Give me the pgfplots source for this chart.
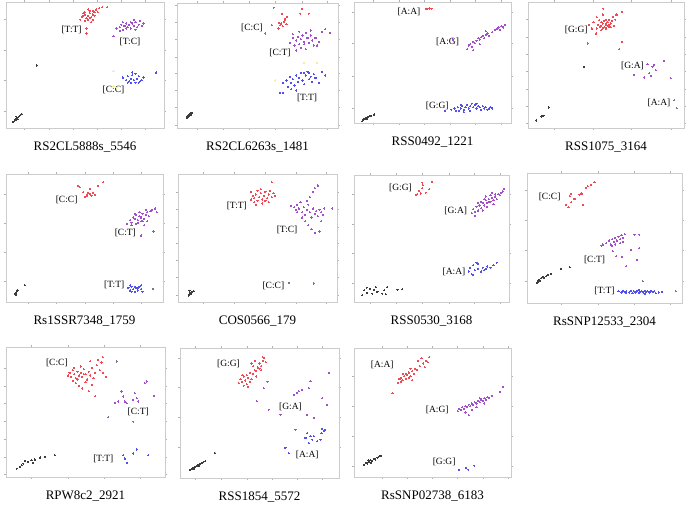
\documentclass[border=0pt]{standalone}
\usepackage{pgfplots}
\pgfplotsset{compat=1.18}
\usepackage{fontspec}
\setmainfont{Liberation Serif}
\definecolor{cR}{RGB}{240,75,85}
\definecolor{cP}{RGB}{160,80,200}
\definecolor{cB}{RGB}{80,80,238}
\definecolor{cK}{RGB}{60,60,60}
\definecolor{cG}{RGB}{130,110,150}
\definecolor{cY}{RGB}{245,238,160}
\newcommand\pts[2]{\addplot[only marks, mark=*, mark size=0.6pt, color=#1, mark options={line width=0pt}] coordinates {#2};}
\newcommand\lab[3]{\node[font=\fontsize{9.5}{10}\selectfont, inner sep=0pt] at (axis cs:#1,#2) {#3};}
\pgfplotsset{panel/.style={scale only axis, xmin=0, xmax=100, ymin=0, ymax=100,
  axis line style={gray!40}, tick align=outside, major tick length=2pt,
  tick style={gray!60, thin}, xticklabels={}, yticklabels={},
  anchor=north west, clip=false,
  xlabel style={at={(axis description cs:0.5,0)}, anchor=center, yshift=-19pt, font=\fontsize{13}{15}\selectfont}}}
\begin{document}
\begin{tikzpicture}[x=1pt,y=1pt]
\useasboundingbox (0,0) rectangle (686,512);
% ---------- Panel 1
\begin{axis}[panel, at={(6pt,510pt)}, width=158pt, height=126pt,
  xtick={11.4,27.2,42.6,58,73.2,88.4}, ytick={13.5,37.9,62,86}, xlabel={RS2CL5888s\_5546}]
\pts{cY}{(68,45) (68,33) (70,32)}
\pts{cR}{(48,88) (50,90) (51,87) (52,89) (53,91) (54,88) (55,90) (52,86) (50,85) (49,91) (53,93) (56,92) (57,94) (59,95) (61,96) (64,96) (55,86) (47,86) (51,79) (51,75) (54,84) (56,89) (58,92) (50,92) (52,94) (49,89) (53,87) (55,93)}
\pts{cP}{(70,79) (72,80) (73,82) (74,78) (75,81) (76,83) (77,80) (78,82) (79,79) (80,83) (81,81) (82,84) (83,80) (84,82) (85,85) (86,81) (87,83) (76,79) (79,84) (72,77) (68,73) (82,78) (74,84) (81,86)}
\pts{cB}{(74,40) (76,38) (77,41) (78,37) (79,39) (80,42) (81,38) (82,36) (83,39) (84,41) (85,37) (86,38) (87,40) (79,36) (82,43) (84,36) (95,44) (77,36) (80,44)}
\pts{cK}{(4.6,5) (5.5,6) (6,7) (6.5,6.5) (7,8) (7.5,7) (8,9) (9,10) (10,11) (6.5,9) (19.4,49.6)}
\lab{41.5}{78}{[T:T]}\lab{78.5}{68}{[T:C]}\lab{68}{30}{[C:C]}
\end{axis}
% ---------- Panel 2
\begin{axis}[panel, at={(177pt,509pt)}, width=161pt, height=125pt,
  xtick={12.8,28.6,44.9,61,77.6,93.6}, ytick={2.6,16.7,30.5,43.8,57,70.8,84.4,98}, xlabel={RS2CL6263s\_1481}]
\pts{cY}{(79,52) (87,52) (61,38)}
\pts{cR}{(60,96.3) (65.2,91.5) (68.3,88.9) (66.3,84.9) (64.2,82.2) (63.1,79.6) (67.3,86.2) (76.6,91.5) (77.6,95.5) (81.8,91.5) (54.9,75.6) (59,82.2) (64.8,83.6) (65.6,81.4) (66.9,87.5) (63.6,84) (68,83)}
\pts{cP}{(70,68) (72,72) (73,66) (74,70) (75,73) (76,67) (77,71) (78,74) (79,69) (80,76) (81,72) (82,68) (83,74) (84,70) (85,66) (86,72) (88,69) (90,77) (92,79) (95,76) (74,62) (77,64) (80,63) (72,75) (83,78) (87,66) (79,67) (76,77)}
\pts{cB}{(66,36) (68,38) (69,33) (70,41) (71,36) (72,39) (73,34) (74,42) (75,37) (76,40) (77,44) (78,38) (79,35) (80,42) (81,45) (82,39) (83,41) (84,37) (85,43) (86,40) (88,36) (90,45) (92,42) (64,28) (66,28) (71,31) (74,30) (79,44) (82,44)}
\pts{cK}{(6,8) (6.5,9) (7,10) (7.5,9.5) (8,11) (8.5,10.5) (9,12) (7,8.5)}
\lab{46.6}{80.4}{[C:C]}\lab{64}{60}{[C:T]}\lab{80.8}{24.4}{[T:T]}
\end{axis}
% ---------- Panel 3
\begin{axis}[panel, at={(354pt,510pt)}, width=157pt, height=121pt,
  xtick={12.3,28.7,44.7,61,77,93.6}, ytick={12.5,38.9,65.8,91.7}, xlabel={RSS0492\_1221}]
\pts{cR}{(45.7,94.4) (46.8,94.4) (48.2,94.6) (49.4,94.4)}
\pts{cP}{(72,61) (73,64) (74,65) (75,63) (76,67) (77,66) (78,68) (79,70) (80,69) (81,71) (82,72) (83,70) (84,73) (85,74) (86,72) (88,75) (90,77) (91,78) (92,79) (93,77) (94,80) (95,79) (96,81) (76,60) (80,65) (84,76) (63,69)}
\pts{cB}{(58,10) (62,11) (64,12) (66,13) (67,10) (68,12) (69,14) (70,11) (71,13) (72,15) (73,12) (74,14) (75,16) (76,13) (77,15) (78,12) (79,14) (80,13) (81,11) (82,14) (83,12) (84,13) (85,11) (86,12) (87,13) (88,12) (70,9) (74,10) (78,16) (68,15) (65,10)}
\pts{cK}{(5.3,1.5) (6,2.5) (7,3) (7.5,4) (8.5,4.5) (9,5) (10,5.5) (11,6) (12.8,7) (6.5,3.5) (8,3.2)}
\lab{35}{92}{[A:A]}\lab{59.6}{66.7}{[A:G]}\lab{53}{14.4}{[G:G]}
\end{axis}
% ---------- Panel 4
\begin{axis}[panel, at={(528pt,510pt)}, width=156pt, height=126pt,
  xtick={17,41.5,66,91.5}, ytick={3.9,17.1,30.8,44.7,58.4,71.8,86.3}, xlabel={RSS1075\_3164}]
\pts{cR}{(48.3,94.7) (60.2,92.1) (56.4,89.5) (45.7,85.5) (50,82.9) (52.1,80.3) (46.8,77.6) (43.6,75) (38.3,67.1) (60.2,68.4) (58.5,62.4) (54.3,88.2) (47,81) (48,83) (49,80) (50,82) (51,84) (52,82) (48,79) (50,79) (53,83) (46,80) (49,85) (51,81) (47,84) (54,85) (45,82) (52,86) (44,79) (55,81) (50,86) (53,80) (42,84) (56,86) (57,90) (44,88) (48,90) (41,79) (39,82)}
\pts{cP}{(76.6,50.5) (79.8,48.7) (81.9,46) (77.7,43.4) (74.5,40) (78.7,41.3) (68.1,42.1) (87.2,53.2) (91.5,39.5) (80.9,50)}
\pts{cG}{(93.6,22) (95.3,15.8)}
\pts{cK}{(5.3,6) (8.5,9.2) (9.2,9.5) (10,9.7) (13.4,16.3) (36,48.7)}
\lab{30.9}{78}{[G:G]}\lab{67}{49}{[G:A]}\lab{84}{20.3}{[A:A]}
\end{axis}
% ---------- Panel 5
\begin{axis}[panel, at={(6pt,338pt)}, width=157pt, height=128pt,
  xtick={14.2,32.2,50.2,68.2,86.2}, ytick={16,39,61.8,84.4}, xlabel={Rs1SSR7348\_1759}]
\pts{cR}{(61.9,93.5) (58.7,90.9) (53.4,88.3) (52.3,85.2) (54.4,83.1) (51.3,82.6) (56.6,83.6) (47,89.6) (49.2,85.7) (50.2,81.8) (51.7,83.6) (53.4,84.4) (55.5,85.2) (46,90.9)}
\pts{cP}{(77,61) (79,64) (80,62) (81,66) (82,65) (83,68) (84,64) (85,67) (86,66) (87,69) (88,65) (89,68) (90,70) (91,67) (92,71) (93,72) (95,73) (84,62) (86,63) (88,60) (90,63) (82,69) (85,70) (87,63) (83,61) (89,72) (80,60) (86,52) (94,55) (96,70)}
\pts{cB}{(78,11) (79,9) (80,12) (81,10) (82,8) (83,11) (84,9) (85,12) (86,10) (87,8) (80,8) (82,12) (84,11) (86,13) (79,13)}
\pts{cG}{(93.6,10.4)}
\pts{cK}{(5.7,6) (6,7) (6.5,7.5) (7,8.5) (7.5,9) (6.2,5.7) (12,13)}
\lab{38.6}{79.7}{[C:C]}\lab{76}{53.8}{[C:T]}\lab{68.9}{13.5}{[T:T]}
\end{axis}
% ---------- Panel 6
\begin{axis}[panel, at={(178pt,338pt)}, width=159pt, height=128pt,
  xtick={16,35.4,55,74.2,93}, ytick={5.2,19,32.6,45.7,58.7,72.3,85.6}, xlabel={COS0566\_179}]
\pts{cR}{(46,80) (47,83) (48,81) (49,84) (50,79) (51,82) (52,85) (53,80) (54,83) (55,86) (56,81) (57,84) (58,87) (59,82) (60,85) (48,78) (50,87) (53,77) (55,79) (57,78) (52,88) (49,76) (61,83) (59,93.5) (46,86)}
\pts{cP}{(71,75) (73,74) (74,72) (75,76) (76,73) (77,78) (78,70) (79,74) (80,68) (81,72) (82,76) (83,70) (84,66) (85,73) (86,69) (87,71) (88,67) (89,72) (90,70) (91,68) (92,73) (80,63) (82,60) (84,57) (86,54) (89,55) (83,82) (85,86) (86,89) (88,91) (97,73) (78,66) (81,79) (75,70) (90,63)}
\pts{cG}{(69.6,14.9) (85.3,14.4)}
\pts{cK}{(6.7,5) (7,6) (7.5,7) (8,6.5) (8.5,7.5) (9,8) (10,8.5) (7.2,8.8)}
\lab{37}{75}{[T:T]}\lab{68.6}{56}{[T:C]}\lab{60}{13}{[C:C]}
\end{axis}
% ---------- Panel 7
\begin{axis}[panel, at={(354pt,337pt)}, width=155pt, height=127pt,
  xtick={10.3,27.3,44,61.3,77.8,94.6}, ytick={14.5,38.2,61.3,85}, xlabel={RSS0530\_3168}]
\pts{cR}{(44.1,94) (44.5,92.1) (44.1,89.5) (41.9,87.6) (39.8,84.2) (46.2,86) (48.4,88.7) (50.5,94.7) (43,85.5) (40.9,85)}
\pts{cP}{(76,70) (77,73) (78,71) (79,75) (80,72) (81,76) (82,74) (83,78) (84,76) (85,80) (86,78) (87,81) (88,79) (89,82) (90,80) (91,83) (92,81) (93,85) (94,84) (95,86) (96,87) (97,89) (84,81) (86,75) (88,84) (90,77) (82,79) (80,78) (78,68) (87,79) (89,86) (85,83) (91,85) (83,72)}
\pts{cB}{(74,24) (75,27) (76,22) (77,29) (78,25) (79,31) (80,26) (82,24) (83,27) (85,26) (86,28) (88,27) (90,29) (92,31) (77,21) (80,30) (84,25)}
\pts{cK}{(5.4,5.3) (6.5,9.2) (8.2,11.3) (10.3,10.5) (11.8,6.6) (14,11.8) (15.1,7.9) (19.4,9.2) (20.4,6.1) (21.5,11.8) (28,9.7) (31.2,10) (8.6,7.1) (12.9,9.7) (18.3,6.6)}
\lab{30}{89.5}{[G:G]}\lab{65.6}{71.6}{[G:A]}\lab{64.5}{23.7}{[A:A]}
\end{axis}
% ---------- Panel 8
\begin{axis}[panel, at={(527pt,339pt)}, width=155pt, height=130pt,
  xtick={22,45.7,69.3,92.3}, ytick={16.7,40.5,63.6,86.7}, xlabel={RsSNP12533\_2304}]
\pts{cR}{(25.3,75.6) (26.8,73.8) (28.5,77.4) (30.7,80) (33.9,83.3) (35.6,84.1) (38.2,88.5) (41.4,91) (43.6,92.8) (36,75.6) (27.5,82) (28.5,84.1) (35,84.6) (39.3,89.7)}
\pts{cP}{(51,46) (53,48) (54,45) (55,49) (56,47) (57,50) (58,48) (59,51) (60,49) (61,52) (62,50) (63,53) (57,45) (60,46) (55,44) (62,47) (48,44) (49,45) (55.4,39.7) (57.5,35.9) (61.4,35.4) (64,28.2) (67.2,41) (71,33.3) (72.5,42.3) (69.3,52.6) (72.5,52.6)}
\pts{cB}{(59,9) (61,8) (62,9.5) (63,8.5) (64,9) (66,8) (67,9.5) (69,9) (70,8) (71,9.5) (72,10) (73,8.5) (74,9) (75,8) (76,9.5) (77,8.5) (78,9) (79,8) (80,9.5) (81,8.5) (82,9) (83,7.5) (85,8) (87,8.5) (68,7.5) (72,7.8) (76,7.2) (64,7.5)}
\pts{cG}{(74.7,16.7) (96,9)}
\pts{cK}{(6.4,15.4) (7.7,17.9) (9.2,19.2) (10.3,20) (12.4,20.5) (13.5,21.8) (15.6,22.6) (22,26.2) (27.5,27.4) (7,16.5) (8.5,17) (11,19)}
\lab{14.6}{81.5}{[C:C]}\lab{43.6}{33.3}{[C:T]}\lab{50}{9}{[T:T]}
\end{axis}
% ---------- Panel 9
\begin{axis}[panel, at={(6pt,165pt)}, width=159pt, height=130pt,
  xtick={16,39.2,61.8,84.3}, ytick={2,15.5,29,43,56.7,70,83.8}, xlabel={RPW8c2\_2921}]
\pts{cR}{(40,80) (41,77) (42,82) (43,79) (44,76) (45,81) (46,78) (47,80) (48,77) (49,83) (50,79) (51,75) (52,81) (53,78) (54,84) (55,76) (56,80) (57,86) (58,90) (59,82) (60,88) (61,92) (44,72) (46,70) (48,68) (50,73) (52,66) (54,71) (56,62) (42,74) (47,85) (45,75) (49,79) (43,84) (39,78) (61,80) (63,77) (53,89)}
\pts{cP}{(68.6,57.2) (70.6,58) (72.7,65.7) (73.8,61.9) (74.8,58) (75.9,56.7) (81.1,64.4) (82.2,60.6) (83.2,58) (80.1,59.3) (87.4,72.2) (88.5,73.5) (93.1,62.6)}
\pts{cG}{(69.6,88.9) (64.4,45.9) (80.1,42.5)}
\pts{cB}{(73.8,16.8) (74.8,14.2) (75.9,10.8) (80.1,18) (82.2,21.1) (89.5,16.8)}
\pts{cK}{(6.7,6.4) (8.8,7.7) (9.9,9) (10.9,10.3) (11.9,12.4) (14,11.6) (16.1,12.9) (17.2,10.8) (18.2,13.4) (21.4,15) (24.5,15.5) (30.8,16.8)}
\lab{32}{88}{[C:C]}\lab{83.2}{50.3}{[C:T]}\lab{61.2}{13.7}{[T:T]}
\end{axis}
% ---------- Panel 10
\begin{axis}[panel, at={(180pt,164pt)}, width=159pt, height=130pt,
  xtick={9.5,25.9,42.1,57.9,73.7,89.5}, ytick={23.8,47,69.7,92.3}, xlabel={RSS1854\_5572}]
\pts{cR}{(37,73) (38,76) (39,74) (40,78) (41,75) (42,79) (43,77) (44,81) (45,76) (46,80) (47,83) (48,82) (49,85) (50,88) (51,86) (52,90) (53,92) (50,84) (46,86) (44,74) (42,72) (48,78) (40,71) (45,88) (52,93) (54,89) (47,90) (39,79) (43,70) (55,74) (51,83)}
\pts{cP}{(93.7,80.8) (82.1,74.4) (81.1,69.2) (76.8,67.9) (74.7,66.7) (73.7,65.4) (71.6,64.1) (89.5,61.5) (92.6,56.4) (80,48.7) (84.2,46.2) (72.6,37.2) (55.8,52.6) (63.2,48.7) (48.4,59) (52.6,69.2)}
\pts{cB}{(89.5,37.7) (90.5,35.9) (89,34.6) (80,34.6) (82.1,32) (84.2,32) (78.9,30.8) (86.3,28.2) (81.1,26.9) (66.3,23.1) (68.4,19.2) (88.4,29.5) (91.2,37.2) (83.2,29.5)}
\pts{cK}{(6.3,6.4) (7.5,7) (8.5,7.8) (9.5,8.5) (10.5,9.2) (11.5,10) (12.5,10.5) (13.5,11.5) (14.5,12) (15.8,12.8) (9,7) (12,9) (22,19.2)}
\lab{30.5}{88}{[G:G]}\lab{69.5}{55}{[G:A]}\lab{80}{18}{[A:A]}
\end{axis}
% ---------- Panel 11
\begin{axis}[panel, at={(354pt,164pt)}, width=157pt, height=129pt,
  xtick={18,34,50,66,82,98}, ytick={8.3,31.5,54.8,78}, xlabel={RsSNP02738\_6183}]
\pts{cR}{(28,73) (29,76) (30,77) (31,75) (32,78) (33,80) (34,79) (35,81) (36,78) (37,82) (38,80) (36,84) (40,83) (42,86) (44,88) (46,90) (48,93) (33,76) (35,77) (31,80) (30,74) (39,84) (45,85) (47,89) (24.5,65) (37,75) (41,90) (43,92)}
\pts{cP}{(66,51) (67,53) (68,52) (69,54) (70,53) (71,55) (72,54) (73,56) (74,55) (75,57) (76,56) (77,58) (78,57) (79,59) (80,58) (81,60) (82,59) (83,61) (84,60) (85,62) (86,61) (88,63) (93,66) (95,70) (71,50) (73,48) (75,52) (78,54) (80,61) (83,57)}
\pts{cB}{(67,5.7) (71.3,7) (72.8,5.7) (76.6,8.8)}
\pts{cK}{(6.4,9.6) (7.5,11) (8.5,10.5) (9.5,12) (10.5,13) (11.5,12.5) (12.5,14) (13.5,13.5) (15,15) (16,16) (17,16.5) (9,13) (11,11)}
\lab{18}{87}{[A:A]}\lab{53}{52}{[A:G]}\lab{57.4}{11.4}{[G:G]}
\end{axis}
\end{tikzpicture}
\end{document}
